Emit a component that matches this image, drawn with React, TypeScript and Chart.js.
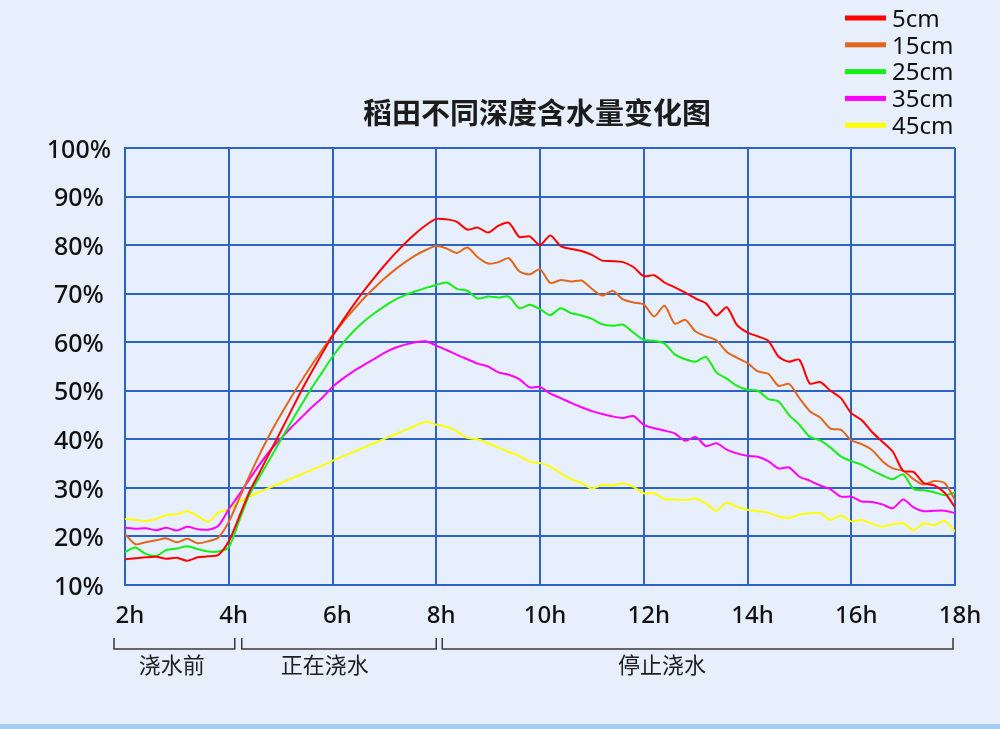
import React, { useEffect, useRef } from 'react';
import { Chart, registerables } from 'chart.js';

Chart.register(...registerables);

const TITLE = '稻田不同深度含水量变化图';

const hours = [
  2.0, 2.2, 2.4, 2.6, 2.8, 3.0, 3.2, 3.4, 3.6, 3.8,
  4.0, 4.2, 4.4, 4.6, 4.8, 5.0, 5.2, 5.4, 5.6, 5.8,
  6.0, 6.2, 6.4, 6.6, 6.8, 7.0, 7.2, 7.4, 7.6, 7.8,
  8.0, 8.2, 8.4, 8.6, 8.8, 9.0, 9.2, 9.4, 9.6, 9.8,
  10.0, 10.2, 10.4, 10.6, 10.8, 11.0, 11.2, 11.4, 11.6, 11.8,
  12.0, 12.2, 12.4, 12.6, 12.8, 13.0, 13.2, 13.4, 13.6, 13.8,
  14.0, 14.2, 14.4, 14.6, 14.8, 15.0, 15.2, 15.4, 15.6, 15.8,
  16.0, 16.2, 16.4, 16.6, 16.8, 17.0, 17.2, 17.4, 17.6, 17.8,
  18.0,
];

const depthLabels = ['5cm', '15cm', '25cm', '35cm', '45cm'];

const moisture5cm = [
  15.3, 15.5, 15.7, 15.8, 15.4, 15.6, 15.0, 15.7, 15.9, 16.2,
  19.0, 24.0, 29.2, 33.3, 37.5, 41.6, 45.8, 50.0, 53.9, 57.7,
  61.3, 64.5, 67.6, 70.5, 73.2, 75.8, 78.2, 80.4, 82.4, 84.1,
  85.4, 85.3, 84.8, 83.2, 83.6, 82.6, 84.0, 84.6, 81.7, 81.8,
  80.0, 82.0, 79.8, 79.2, 78.8, 78.0, 76.8, 76.7, 76.5, 75.5,
  73.6, 73.8, 72.3, 71.3, 70.2, 69.0, 68.0, 65.5, 67.2, 63.5,
  62.0, 61.2, 60.3, 57.0, 56.0, 56.4, 51.5, 51.8, 50.0, 48.5,
  45.4, 44.0, 41.5, 39.5, 37.5, 33.5, 33.3, 31.0, 30.5, 29.0,
  26.0,
];

const moisture15cm = [
  20.5, 18.4, 18.8, 19.2, 19.6, 18.8, 19.5, 18.6, 19.0, 19.8,
  23.0, 27.8, 32.5, 37.0, 41.2, 45.0, 48.6, 52.0, 55.3, 58.4,
  61.4, 64.1, 66.6, 69.0, 71.1, 73.1, 74.9, 76.5, 77.9, 79.0,
  79.8, 79.3, 78.4, 79.5, 77.5, 76.2, 76.5, 77.3, 74.6, 74.0,
  75.0, 72.2, 72.8, 72.5, 72.7, 71.0, 69.6, 70.6, 68.8, 68.2,
  67.8, 65.3, 67.5, 63.8, 64.6, 62.2, 61.2, 60.4, 58.0, 56.8,
  55.7, 54.0, 53.5, 51.0, 51.4, 48.5, 45.8, 44.5, 42.2, 42.0,
  39.8, 39.0, 37.8, 35.5, 34.0, 33.5, 31.8, 30.7, 31.4, 31.0,
  27.5,
];

const moisture25cm = [
  16.8, 17.7, 16.4, 16.0, 17.2, 17.5, 18.0, 17.4, 16.9, 16.9,
  17.8, 23.2, 28.6, 32.4, 36.1, 39.8, 43.5, 47.1, 50.6, 53.8,
  57.0, 59.8, 62.2, 64.2, 65.9, 67.4, 68.7, 69.7, 70.5, 71.2,
  71.8, 72.3, 71.0, 70.6, 69.0, 69.4, 69.2, 69.4, 67.0, 67.7,
  66.8, 65.6, 67.0, 66.0, 65.5, 64.8, 63.7, 63.4, 63.6, 62.0,
  60.5, 60.3, 59.7, 57.5, 56.5, 56.0, 57.0, 53.8, 52.5, 51.0,
  50.2, 50.0, 48.3, 47.8, 45.0, 43.0, 40.5, 39.8, 38.3, 36.5,
  35.5, 34.8, 33.6, 32.6, 31.8, 32.8, 29.8, 29.5, 29.1, 28.5,
  29.0,
];

const moisture35cm = [
  21.8, 21.6, 21.7, 21.3, 21.8, 21.2, 22.0, 21.5, 21.4, 22.2,
  25.6, 28.6, 31.8, 34.9, 37.7, 40.1, 42.4, 44.5, 46.6, 48.5,
  50.8, 52.5, 54.0, 55.3, 56.5, 57.8, 58.8, 59.5, 60.0, 60.2,
  59.3, 58.4, 57.4, 56.5, 55.6, 55.0, 53.8, 53.3, 52.4, 50.7,
  50.8, 49.4, 48.5, 47.5, 46.6, 45.8, 45.2, 44.7, 44.4, 44.8,
  43.0, 42.3, 41.8, 41.2, 39.7, 40.5, 38.6, 39.2, 37.9, 37.1,
  36.6, 36.4, 35.5, 34.0, 34.2, 32.3, 31.5, 30.5, 29.7, 28.2,
  28.2, 27.2, 27.1, 26.6, 25.8, 27.6, 26.0, 25.2, 25.3, 25.3,
  24.8,
];

const moisture45cm = [
  23.6, 23.4, 23.2, 23.6, 24.4, 24.6, 25.2, 24.2, 23.0, 24.9,
  25.6, 27.1, 28.2, 29.2, 30.1, 31.0, 31.9, 32.8, 33.7, 34.6,
  35.6, 36.5, 37.4, 38.3, 39.2, 40.1, 41.0, 41.9, 42.8, 43.6,
  43.0, 42.6, 41.6, 40.3, 40.0, 39.2, 38.3, 37.4, 36.6, 35.4,
  35.1, 34.4, 33.0, 31.8, 31.0, 29.9, 30.6, 30.5, 30.9, 30.2,
  28.9, 28.9, 27.7, 27.6, 27.5, 27.8, 26.8, 25.3, 27.0, 26.1,
  25.5, 25.2, 24.9, 24.1, 23.8, 24.5, 24.8, 24.8, 23.4, 24.3,
  23.1, 23.4, 22.6, 22.0, 22.5, 22.7, 21.3, 22.7, 22.3, 23.2,
  21.0,
];

const seriesValues = [moisture5cm, moisture15cm, moisture25cm, moisture35cm, moisture45cm];

const phaseLabels = ['浇水前', '正在浇水', '停止浇水'];
const phaseStart = [2, 4, 8];
const phaseEnd = [4, 8, 18];

// layout / style constants
const phaseLabelAt = [2.9, 5.85, 12.35];
const bracketInsetL = [-11, 13, 6];
const bracketInsetR = [6, 0, -2];
const COLORS = ['#ff0000', '#e2661e', '#16ef16', '#ff00ff', '#ffff00'];
const GRID = '#2d63c6';
const BG = 'rgb(232,239,252)';
const LATIN = '"Noto Sans", "DejaVu Sans", sans-serif';
const CJK = '"Noto Sans CJK SC", "Noto Sans", sans-serif';

const overlay = {
  id: 'overlay',
  afterDraw(chart: any) {
    const { ctx, chartArea, scales } = chart;
    const xs = scales.x;
    const W = chart.width;
    ctx.save();

    // title
    ctx.font = `bold 29px ${CJK}`;
    ctx.fillStyle = '#1c1c1c';
    ctx.textAlign = 'center';
    ctx.textBaseline = 'middle';
    ctx.fillText(TITLE, (chartArea.left + chartArea.right) / 2 - 3, chartArea.top - 35);

    // legend
    chart.data.datasets.forEach((ds: any, i: number) => {
      const y = 18 + i * 26.8;
      ctx.fillStyle = ds.borderColor;
      ctx.fillRect(845, y - 2.5, 41, 5);
      ctx.fillStyle = '#111';
      ctx.font = `24px ${LATIN}`;
      ctx.textAlign = 'left';
      ctx.textBaseline = 'middle';
      ctx.fillText(ds.label, 892, y + 2);
    });

    // phase brackets
    const lineY = chartArea.bottom + 64;
    const tickTop = chartArea.bottom + 53;
    ctx.strokeStyle = '#3a3a3a';
    ctx.lineWidth = 1.5;
    phaseLabels.forEach((label, i) => {
      const x0 = xs.getPixelForValue(phaseStart[i]) + bracketInsetL[i];
      const x1 = xs.getPixelForValue(phaseEnd[i]) + bracketInsetR[i];
      ctx.beginPath();
      ctx.moveTo(x0, tickTop);
      ctx.lineTo(x0, lineY);
      ctx.lineTo(x1, lineY);
      ctx.lineTo(x1, tickTop);
      ctx.stroke();
      ctx.fillStyle = '#1e1e1e';
      ctx.font = `22px ${CJK}`;
      ctx.textAlign = 'center';
      ctx.textBaseline = 'middle';
      ctx.fillText(label, xs.getPixelForValue(phaseLabelAt[i]), chartArea.bottom + 80);
    });

    // bottom strip
    ctx.fillStyle = '#a3cdf0';
    ctx.fillRect(0, chart.height - 5, W, 5);
    ctx.restore();
  },
};

export default function App() {
  const ref = useRef<HTMLCanvasElement | null>(null);

  useEffect(() => {
    if (!ref.current) return;
    const chart = new Chart(ref.current, {
      type: 'line',
      data: {
        datasets: depthLabels.map((label, i) => ({
          label,
          data: hours.map((h, j) => ({ x: h, y: seriesValues[i][j] })),
          borderColor: COLORS[i],
          backgroundColor: COLORS[i],
          borderWidth: 2,
          pointRadius: 0,
          tension: 0.25,
          fill: false,
        })),
      },
      options: {
        responsive: false,
        animation: false,
        events: [],
        layout: { padding: { top: 148, right: 45, bottom: 104, left: 0 } },
        plugins: {
          legend: { display: false },
          title: { display: false },
          tooltip: { enabled: false },
        },
        scales: {
          x: {
            type: 'linear',
            min: 2,
            max: 18,
            ticks: {
              stepSize: 2,
              autoSkip: false,
              maxRotation: 0,
              padding: 17,
              labelOffset: 5,
              color: '#111',
              font: { family: LATIN, size: 24, weight: '500' },
              callback: (v: any) => `${v}h`,
            },
            grid: { color: GRID, lineWidth: 2, drawTicks: false },
            border: { color: GRID, width: 2 },
            afterFit: (s: any) => {
              s.height = 40;
            },
          },
          y: {
            min: 10,
            max: 100,
            ticks: {
              stepSize: 10,
              padding: 14,
              labelOffset: 2.5,
              crossAlign: 'center',
              color: '#111',
              font: { family: LATIN, size: 25, weight: '500' },
              callback: (v: any) => `${v}%`,
            },
            grid: { color: GRID, lineWidth: 2, drawTicks: false },
            border: { color: GRID, width: 2 },
            afterFit: (s: any) => {
              s.width = 125;
            },
          },
        },
      } as any,
      plugins: [overlay],
    });
    return () => chart.destroy();
  }, []);

  return (
    <div
      style={{
        position: 'absolute',
        left: 0,
        top: 0,
        width: 1000,
        height: 729,
        background: BG,
        overflow: 'hidden',
      }}
    >
      <canvas ref={ref} width={1000} height={729} style={{ display: 'block' }} />
    </div>
  );
}
